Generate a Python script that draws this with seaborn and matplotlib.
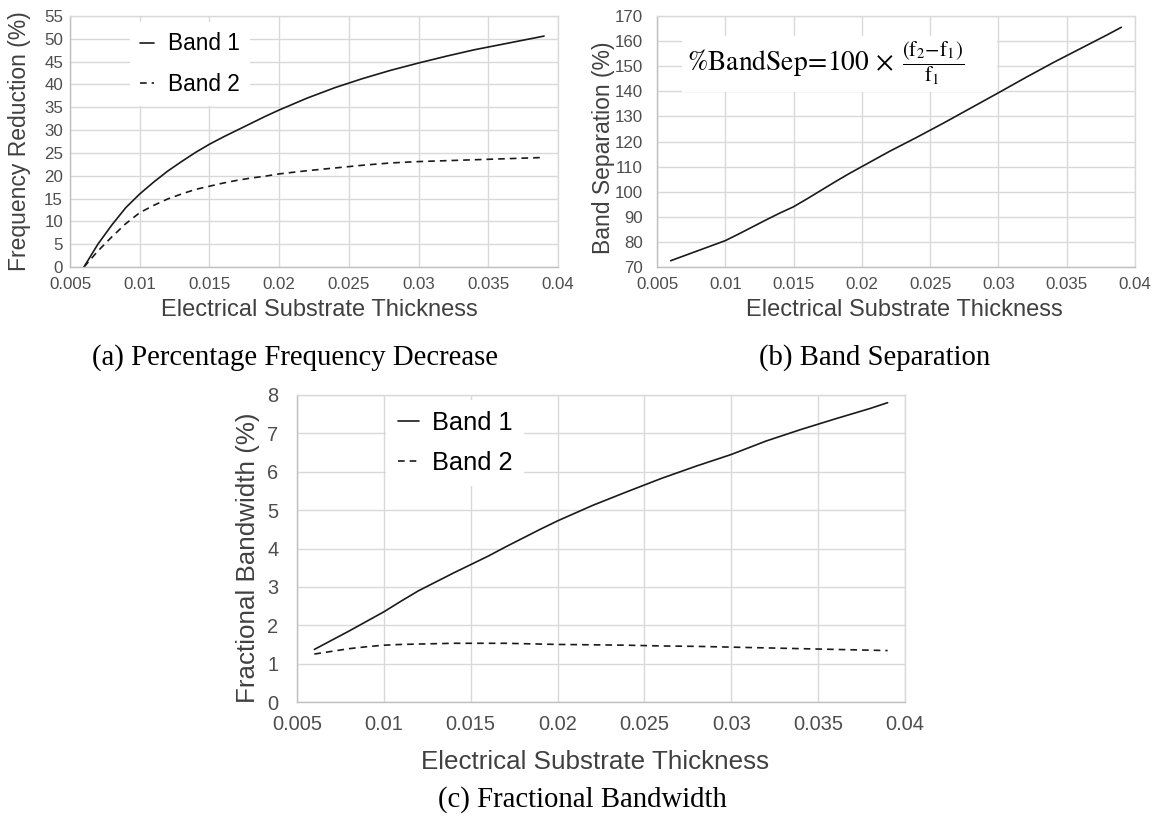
import numpy as np
import pandas as pd
import matplotlib
matplotlib.use("Agg")
import matplotlib.pyplot as plt
from matplotlib.patches import Rectangle
import seaborn as sns

sns.set_theme(style="white")
plt.rcParams['font.family'] = ['Liberation Sans', 'DejaVu Sans']
plt.rcParams['mathtext.fontset'] = 'stix'

# ---------------- data ----------------
thickness = [0.006, 0.007, 0.008, 0.009, 0.010, 0.011, 0.012, 0.013, 0.014, 0.015,
             0.016, 0.017, 0.018, 0.019, 0.020, 0.022, 0.024, 0.026, 0.028, 0.030,
             0.032, 0.034, 0.036, 0.038, 0.039]

freq_red_band1 = [0.0, 5.0, 9.2, 13.0, 16.0, 18.6, 21.0, 23.1, 25.1, 26.9,
                  28.5, 30.0, 31.5, 33.0, 34.4, 37.0, 39.3, 41.3, 43.1, 44.7,
                  46.2, 47.6, 48.8, 50.0, 50.6]
freq_red_band2 = [0.0, 3.5, 6.6, 9.5, 11.9, 13.5, 14.9, 16.0, 17.0, 17.7,
                  18.4, 19.0, 19.5, 19.9, 20.4, 21.1, 21.7, 22.3, 22.8, 23.1,
                  23.3, 23.5, 23.7, 23.9, 24.0]

band_sep = [72.5, 74.5, 76.5, 78.5, 80.5, 83.2, 86.0, 88.8, 91.5, 94.0,
            97.2, 100.5, 103.8, 107.0, 110.0, 116.0, 121.6, 127.4, 133.4, 139.4,
            145.5, 151.4, 157.0, 162.6, 165.5]

frac_bw_band1 = [1.37, 1.61, 1.85, 2.10, 2.35, 2.63, 2.90, 3.13, 3.36, 3.58,
                 3.80, 4.04, 4.27, 4.50, 4.72, 5.12, 5.48, 5.83, 6.15, 6.45,
                 6.80, 7.10, 7.38, 7.65, 7.80]
frac_bw_band2 = [1.25, 1.32, 1.39, 1.44, 1.48, 1.50, 1.51, 1.52, 1.53, 1.53,
                 1.53, 1.53, 1.52, 1.51, 1.50, 1.49, 1.48, 1.46, 1.45, 1.43,
                 1.41, 1.39, 1.37, 1.35, 1.34]

x_ticks = [0.005, 0.01, 0.015, 0.02, 0.025, 0.03, 0.035, 0.04]
x_ticklabels = ["0.005", "0.01", "0.015", "0.02", "0.025", "0.03", "0.035", "0.04"]
series_names = ["Band 1", "Band 2"]

# ---------------- styling ----------------
GRID = "#d9d9d9"
AXIS = "#bfbfbf"
TICK = "#4d4d4d"
LABEL = "#404040"
LINE = "#1a1a1a"

fig = plt.figure(figsize=(11.57, 8.19), dpi=100)
W, H = 1157, 819


def add_axes(l, r, t, b):
    return fig.add_axes([l / W, 1 - b / H, (r - l) / W, (b - t) / H])


def style_axes(ax, ylim, yticks, tick_fs, xpad, ypad):
    ax.set_xlim(0.005, 0.04)
    ax.set_ylim(*ylim)
    ax.set_xticks(x_ticks)
    ax.set_xticklabels(x_ticklabels)
    ax.set_yticks(yticks)
    ax.set_yticklabels([str(v) for v in yticks])
    ax.grid(True, color=GRID, linewidth=1.0)
    ax.set_axisbelow(True)
    for s in ["top", "right"]:
        ax.spines[s].set_color(GRID)
        ax.spines[s].set_linewidth(1.0)
    for s in ["left", "bottom"]:
        ax.spines[s].set_color(AXIS)
        ax.spines[s].set_linewidth(1.0)
    ax.tick_params(axis="x", length=0, labelsize=tick_fs, colors=TICK, pad=xpad)
    ax.tick_params(axis="y", length=0, labelsize=tick_fs, colors=TICK, pad=ypad)
    ax.set_facecolor("white")


# ---------- (a) ----------
axA = add_axes(70, 558, 16, 267)
dfA = pd.DataFrame({"x": thickness * 2,
                    "y": freq_red_band1 + freq_red_band2,
                    "Band": [series_names[0]] * len(thickness) + [series_names[1]] * len(thickness)})
sns.lineplot(data=dfA, x="x", y="y", style="Band", color=LINE, linewidth=1.2,
             dashes={"Band 1": "", "Band 2": (4, 3)}, ax=axA, legend=True)
style_axes(axA, (0, 55), list(range(0, 56, 5)), 12.2, 7.5, 5.0)
axA.set_xlabel("Electrical Substrate Thickness", fontsize=17, color=LABEL)
axA.set_ylabel("Frequency Reduction (%)", fontsize=16.5, color=LABEL)
axA.xaxis.set_label_coords(0.511, -0.171)
axA.yaxis.set_label_coords(-0.1045, 0.5)
axA.xaxis.label.set_va("center")
axA.yaxis.label.set_va("center")
handles, labels = axA.get_legend_handles_labels()
legA = axA.legend(handles, labels, loc="upper left", bbox_to_anchor=(0.122, 0.975),
                  fontsize=16.3, frameon=True, facecolor="white", edgecolor="none",
                  framealpha=1, fancybox=False, handlelength=0.65, handletextpad=0.6,
                  labelspacing=0.78, borderpad=0.45, borderaxespad=0)
for t in legA.get_texts():
    t.set_color("black")

# ---------- (b) ----------
axB = add_axes(657, 1135, 16, 267)
dfB = pd.DataFrame({"x": thickness, "y": band_sep})
sns.lineplot(data=dfB, x="x", y="y", color=LINE, linewidth=1.2, ax=axB)
style_axes(axB, (70, 170), list(range(70, 171, 10)), 12.2, 7.5, 10.0)
axB.set_xlabel("Electrical Substrate Thickness", fontsize=17, color=LABEL)
axB.set_ylabel("Band Separation (%)", fontsize=16.5, color=LABEL)
axB.xaxis.set_label_coords(0.518, -0.171)
axB.yaxis.set_label_coords(-0.112, 0.476)
axB.xaxis.label.set_va("center")
axB.yaxis.label.set_va("center")
# white box behind the formula (covers grid, as in the reference)
axB.add_patch(Rectangle(((682 - 657) / 478, 1 - (92 - 16) / 251), (997 - 682) / 478,
                        (92 - 36) / 251, transform=axB.transAxes, facecolor="white",
                        edgecolor="none", zorder=1.5))
axB.text((687 - 657) / 478, 1 - (62.5 - 16) / 251,
         r"$\%\mathrm{BandSep}\!=\!100\,\times$",
         transform=axB.transAxes, fontsize=19.8, color="black", ha="left", va="center",
         zorder=3)
axB.text((902 - 657) / 478, 1 - (63 - 16) / 251,
         r"$\dfrac{(\mathrm{f}_2\!-\!\mathrm{f}_1)}{\mathrm{f}_1}$",
         transform=axB.transAxes, fontsize=15, color="black", ha="left", va="center",
         zorder=3)

# ---------- (c) ----------
axC = add_axes(297, 905, 395, 702)
dfC = pd.DataFrame({"x": thickness * 2,
                    "y": frac_bw_band1 + frac_bw_band2,
                    "Band": [series_names[0]] * len(thickness) + [series_names[1]] * len(thickness)})
sns.lineplot(data=dfC, x="x", y="y", style="Band", color=LINE, linewidth=1.2,
             dashes={"Band 1": "", "Band 2": (4, 3)}, ax=axC, legend=True)
style_axes(axC, (0, 8), list(range(0, 9)), 14.4, 9.5, 13.5)
axC.set_xlabel("Electrical Substrate Thickness", fontsize=18.7, color=LABEL)
axC.set_ylabel("Fractional Bandwidth (%)", fontsize=18.7, color=LABEL)
axC.xaxis.set_label_coords(0.49, -0.195)
axC.yaxis.set_label_coords(-0.0806, 0.469)
axC.xaxis.label.set_va("center")
axC.yaxis.label.set_va("center")
handles, labels = axC.get_legend_handles_labels()
legC = axC.legend(handles, labels, loc="upper left", bbox_to_anchor=(0.147, 0.985),
                  fontsize=18.3, frameon=True, facecolor="white", edgecolor="none",
                  framealpha=1, fancybox=False, handlelength=0.85, handletextpad=0.5,
                  labelspacing=0.62, borderpad=0.45, borderaxespad=0)
for t in legC.get_texts():
    t.set_color("black")

# ---------- captions ----------
cap_font = ["Liberation Serif", "DejaVu Serif"]
fig.text(295 / W, 1 - 358 / H, "(a) Percentage Frequency Decrease", family=cap_font,
         fontsize=20.7, ha="center", va="center", color="black")
fig.text(875 / W, 1 - 358 / H, "(b) Band Separation", family=cap_font,
         fontsize=20.7, ha="center", va="center", color="black")
fig.text(582 / W, 1 - 800 / H, "(c) Fractional Bandwidth", family=cap_font,
         fontsize=20.7, ha="center", va="center", color="black")

fig.savefig("out.png", dpi=100, facecolor="white")
